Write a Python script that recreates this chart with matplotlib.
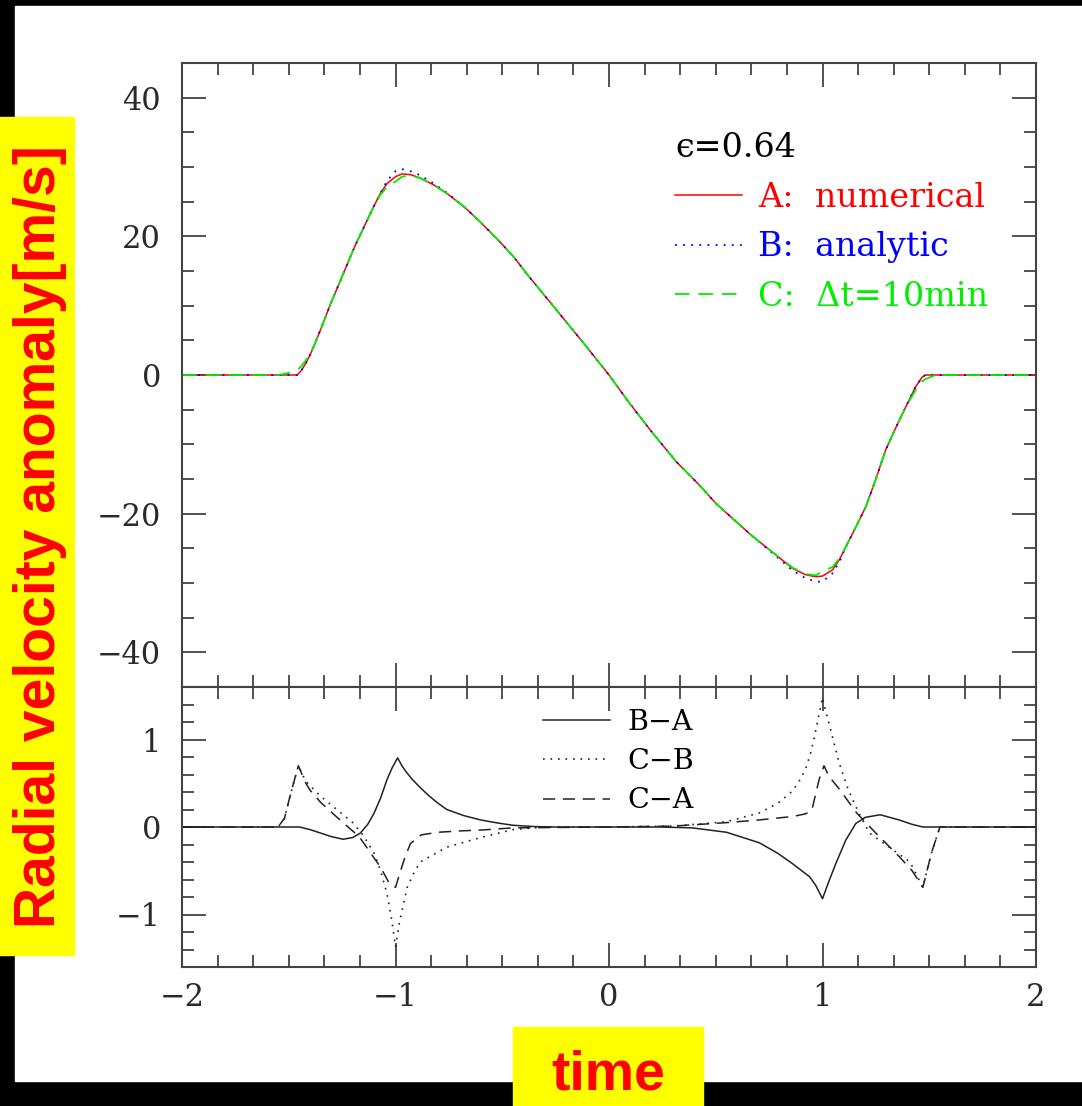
import matplotlib
matplotlib.use('Agg')  # no display

import matplotlib.pyplot as plt
from matplotlib.patches import Rectangle
from matplotlib.ticker import MultipleLocator

plt.rcParams['font.family'] = ['DejaVu Serif', 'DejaVu Sans']

# ---- upper panel: radial velocity anomaly [m/s] ----
t_top = [-2.0, -1.55, -1.50, -1.46, -1.44, -1.42, -1.40, -1.383, -1.345, -1.305,
         -1.265, -1.227, -1.19, -1.15, -1.11, -1.071, -1.04, -1.0, -0.97, -0.93,
         -0.884, -0.82, -0.76, -0.68, -0.604, -0.52, -0.448, -0.38, -0.324, -0.22,
         -0.106, 0.0, 0.097, 0.2, 0.315, 0.424, 0.5, 0.59, 0.67, 0.735,
         0.80, 0.86, 0.92, 0.969, 1.0, 1.047, 1.08, 1.109, 1.155, 1.203,
         1.25, 1.296, 1.345, 1.39, 1.436, 1.467, 1.483, 1.52, 1.55, 2.0]
vel_A = [0, 0, 0, 0, 0.7, 1.7, 2.9, 4.1, 7.0, 10.2,
         13.1, 15.9, 18.6, 21.2, 23.8, 26.2, 27.6, 28.6, 29.0, 28.9,
         28.4, 27.4, 26.2, 24.3, 22.1, 19.5, 17.1, 14.4, 12.3, 8.4,
         4.1, 0.0, -4.1, -8.2, -12.5, -15.9, -18.5, -21.0, -23.2, -24.8,
         -26.4, -27.9, -28.8, -29.1, -29.0, -28.1, -26.6, -24.8, -22.0, -19.0,
         -15.0, -10.8, -7.5, -4.6, -1.7, -0.3, 0, 0, 0, 0]
vel_B = [0, 0, 0, 0, 0.7, 1.7, 2.9, 4.1, 7.0, 10.2,
         13.1, 15.9, 18.6, 21.2, 23.8, 26.2, 28.0, 29.4, 29.7, 29.4,
         28.8, 27.6, 26.3, 24.3, 22.1, 19.5, 17.1, 14.4, 12.3, 8.4,
         4.1, 0.0, -4.1, -8.2, -12.5, -15.9, -18.5, -21.0, -23.2, -24.9,
         -26.6, -28.2, -29.3, -29.8, -29.8, -28.6, -26.9, -24.8, -22.0, -19.0,
         -15.0, -10.8, -7.5, -4.6, -1.7, -0.3, 0, 0, 0, 0]
vel_C = [0, 0, 0.3, 0.7, 1.3, 2.1, 3.1, 4.1, 7.0, 10.2,
         13.1, 15.9, 18.6, 21.2, 23.8, 26.0, 27.1, 27.9, 28.6, 28.8,
         28.4, 27.4, 26.2, 24.3, 22.1, 19.5, 17.1, 14.4, 12.3, 8.4,
         4.1, 0.0, -4.1, -8.2, -12.5, -15.9, -18.5, -21.0, -23.2, -24.8,
         -26.4, -27.8, -28.7, -28.9, -28.3, -27.7, -26.4, -24.8, -22.0, -19.0,
         -15.0, -10.8, -7.5, -4.6, -2.2, -0.9, -0.6, -0.1, 0, 0]

# ---- lower panel: differences ----
t_ba = [-2.0, -1.45, -1.40, -1.35, -1.30, -1.245, -1.20, -1.165, -1.13, -1.10,
        -1.07, -1.04, -1.015, -0.99, -0.97, -0.95, -0.92, -0.88, -0.84, -0.80,
        -0.76, -0.68, -0.6, -0.52, -0.45, -0.35, -0.25, 0.0, 0.24, 0.39,
        0.55, 0.704, 0.79, 0.86, 0.94, 0.969, 1.0, 1.03, 1.062, 1.109,
        1.156, 1.2, 1.27, 1.36, 1.42, 1.47, 2.0]
diff_ba = [0, 0, -0.03, -0.07, -0.11, -0.14, -0.12, -0.07, 0.03, 0.16,
           0.33, 0.54, 0.68, 0.79, 0.7, 0.63, 0.54, 0.44, 0.35, 0.27,
           0.2, 0.13, 0.08, 0.045, 0.02, 0.005, 0.0, 0.0, 0.0, -0.01,
           -0.06, -0.18, -0.3, -0.42, -0.57, -0.67, -0.82, -0.62, -0.42, -0.15,
           0.04, 0.11, 0.14, 0.08, 0.03, 0.0, 0.0]

t_cb = [-2.0, -1.55, -1.52, -1.49, -1.455, -1.42, -1.35, -1.28, -1.2, -1.15,
        -1.10, -1.071, -1.04, -1.017, -1.0, -0.98, -0.945, -0.915, -0.884, -0.76,
        -0.6, -0.45, -0.3, 0.0, 0.3, 0.55, 0.703, 0.79, 0.859, 0.90,
        0.922, 0.945, 0.961, 0.985, 1.0, 1.015, 1.03, 1.054, 1.077, 1.12,
        1.17, 1.22, 1.33, 1.41, 1.47, 1.51, 1.55, 2.0]
diff_cb = [0, 0, 0.1, 0.39, 0.70, 0.52, 0.35, 0.21, 0.05, -0.1,
           -0.3, -0.49, -0.76, -1.07, -1.37, -1.07, -0.69, -0.53, -0.4, -0.23,
           -0.12, -0.03, 0.0, 0.0, 0.01, 0.06, 0.16, 0.27, 0.41, 0.56,
           0.67, 0.85, 1.02, 1.3, 1.48, 1.32, 1.19, 0.96, 0.74, 0.43,
           0.16, -0.07, -0.26, -0.4, -0.69, -0.3, 0.0, 0]

t_ca = [-2.0, -1.55, -1.52, -1.49, -1.455, -1.42, -1.40, -1.35, -1.26, -1.17,
        -1.07, -1.03, -1.0, -0.98, -0.955, -0.93, -0.88, -0.8, -0.7, -0.6,
        -0.45, 0.0, 0.3, 0.55, 0.7, 0.86, 0.92, 0.95, 0.97, 0.985,
        1.007, 1.03, 1.08, 1.16, 1.25, 1.36, 1.42, 1.47, 1.51, 1.55, 2.0]
diff_ca = [0, 0, 0.1, 0.39, 0.70, 0.5, 0.42, 0.28, 0.08, -0.11,
           -0.46, -0.64, -0.69, -0.53, -0.34, -0.19, -0.09, -0.06, -0.045, -0.035,
           -0.01, 0.0, 0.01, 0.05, 0.08, 0.12, 0.15, 0.19, 0.4, 0.55,
           0.7, 0.58, 0.43, 0.16, -0.07, -0.34, -0.5, -0.69, -0.3, 0.0, 0]

W, H = 1082, 1106
fig = plt.figure(figsize=(W / 100, H / 100), dpi=100, facecolor='black')


def fig_rect(l, t, r, b, **kw):
    """rectangle given in pixel coords (top-left origin)"""
    fig.patches.append(Rectangle((l / W, 1 - b / H), (r - l) / W, (b - t) / H,
                                 transform=fig.transFigure, **kw))


def px_axes(l, t, r, b):
    return fig.add_axes([l / W, 1 - b / H, (r - l) / W, (b - t) / H])


# white page inside black frame
fig_rect(15, 6, W, 1081, color='white', zorder=-5)

ax_top = px_axes(182, 63, 1036, 687)
ax_bot = px_axes(182, 687, 1036, 967)

line_a, = ax_top.plot(t_top, vel_A, color='#ff0000', lw=1.1, label='A:  numerical')
line_b, = ax_top.plot(t_top, vel_B, color='#0000ff', lw=1.3, dashes=(1, 3.5),
                      label='B:  analytic')
line_c, = ax_top.plot(t_top, vel_C, color='#00ee00', lw=1.3, dashes=(8, 5),
                      label='C:  \u0394t=10min')

ax_bot.plot(t_ba, diff_ba, color='#222222', lw=1.1, label='B\u2212A')
ax_bot.plot(t_cb, diff_cb, color='#222222', lw=1.2, dashes=(1, 3.5), label='C\u2212B')
ax_bot.plot(t_ca, diff_ca, color='#222222', lw=1.1, dashes=(8, 5), label='C\u2212A')

ax_top.set_xlim(-2, 2)
ax_top.set_ylim(-45, 45)
ax_bot.set_xlim(-2, 2)
ax_bot.set_ylim(-1.6, 1.6)

ax_top.yaxis.set_major_locator(MultipleLocator(20))
ax_top.yaxis.set_minor_locator(MultipleLocator(5))
ax_bot.yaxis.set_major_locator(MultipleLocator(1))
ax_bot.yaxis.set_minor_locator(MultipleLocator(0.2))

for ax in (ax_top, ax_bot):
    ax.xaxis.set_major_locator(MultipleLocator(1))
    ax.xaxis.set_minor_locator(MultipleLocator(1 / 6))
    ax.tick_params(which='both', direction='in', top=True, right=True,
                   labelsize=22, colors='#333333', labelcolor='#2a2a2a', width=1.2)
    ax.tick_params(which='major', length=17)
    ax.tick_params(which='minor', length=8.5)
    ax.tick_params(axis='y', pad=15)
    ax.tick_params(axis='x', pad=11)
    for s in ax.spines.values():
        s.set_linewidth(1.5)
        s.set_color('#444444')

ax_top.tick_params(labelbottom=False)

ax_top.legend(handles=[line_a, line_b, line_c], loc='upper left',
              bbox_to_anchor=((675 - 182) / 854, (687 - 132) / 624),
              frameon=False, fontsize=24, title='\u03f5=0.64', title_fontsize=24,
              alignment='left', handlelength=2.0, handletextpad=0.48,
              labelspacing=0.53, borderpad=0, borderaxespad=0,
              labelcolor='linecolor')

ax_bot.legend(loc='upper left', bbox_to_anchor=((543 - 182) / 854, (967 - 709) / 280),
              frameon=False, fontsize=20.5, handlelength=2.35, handletextpad=0.6,
              labelspacing=0.43, borderpad=0, borderaxespad=0)

# yellow label boxes
fig_rect(0, 117, 74, 955, color='#ffff00', zorder=1)
fig_rect(513, 1027, 703, H, color='#ffff00', zorder=1)

fig.text(55 / W, 1 - 537 / H, 'Radial velocity anomaly[m/s]', rotation=90,
         rotation_mode='anchor', ha='center', va='baseline', color='#ff0000',
         fontsize=41, fontweight='bold', family='Liberation Sans')
fig.text(608 / W, 1 - 1090 / H, 'time', ha='center', va='baseline',
         color='#ff0000', fontsize=40, fontweight='bold', family='Liberation Sans')

fig.savefig('out.png', dpi=100, facecolor=fig.get_facecolor())
